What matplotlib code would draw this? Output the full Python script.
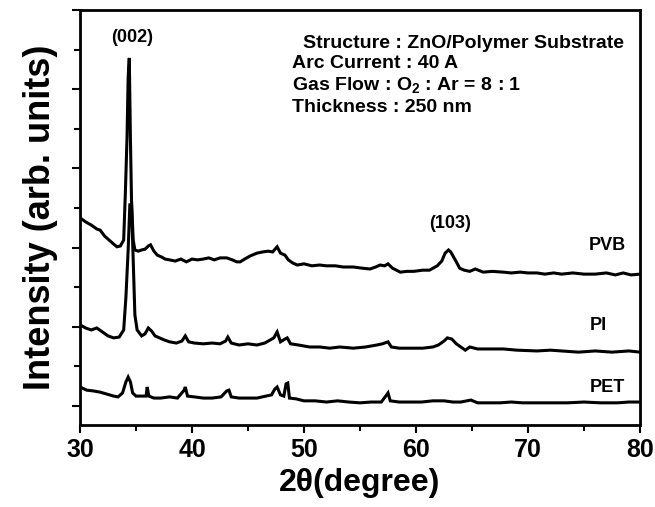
import matplotlib
matplotlib.use("Agg")
import matplotlib.pyplot as plt
from matplotlib import font_manager
from matplotlib.ticker import MultipleLocator

names = {f.name for f in font_manager.fontManager.ttflist}
narrow = "Liberation Sans Narrow" if "Liberation Sans Narrow" in names else "Liberation Sans"
wide = "Liberation Sans" if "Liberation Sans" in names else "DejaVu Sans"

# ---------------- data (2theta in degree, intensity in arb. units, offset stacked) -------------
pvb_x = [30.0, 30.5, 31.0, 31.5, 31.8, 32.2, 32.6, 33.0, 33.3, 33.6, 33.9, 34.05, 34.2, 34.3, 34.4,
         34.5, 34.6, 34.75, 34.9, 35.2, 35.5, 35.8, 36.1, 36.3, 36.6, 36.9, 37.3, 37.6, 38.0, 38.5,
         39.0, 39.5, 40.0, 40.5, 41.0, 41.5, 42.0, 42.5, 43.1, 43.6, 44.0, 44.3, 44.7, 45.2, 45.8,
         46.3, 46.8, 47.2, 47.6, 47.9, 48.3, 48.6, 49.0, 49.4, 50.0, 50.7, 51.4, 52.0, 52.8, 53.5,
         54.4, 55.2, 55.9, 56.4, 56.8, 57.2, 57.5, 57.9, 58.6, 59.2, 59.8, 60.6, 61.2, 61.9, 62.3,
         62.6, 62.9, 63.1, 63.3, 63.6, 63.9, 64.3, 64.8, 65.3, 66.0, 66.8, 67.8, 68.5, 69.3, 70.0,
         70.8, 71.5, 72.3, 73.0, 74.0, 75.0, 76.0, 77.0, 77.8, 78.5, 79.2, 80.0]
pvb_y = [4.75, 4.65, 4.57, 4.47, 4.44, 4.29, 4.19, 4.09, 4.02, 4.04, 4.19, 5.38, 6.79, 8.31, 8.79,
         6.79, 5.20, 4.19, 3.94, 3.91, 3.94, 3.96, 4.04, 4.07, 3.91, 3.81, 3.76, 3.71, 3.69, 3.66,
         3.71, 3.64, 3.71, 3.69, 3.71, 3.74, 3.69, 3.74, 3.74, 3.69, 3.64, 3.64, 3.71, 3.79, 3.86,
         3.89, 3.91, 3.89, 4.02, 3.86, 3.81, 3.69, 3.61, 3.56, 3.59, 3.54, 3.56, 3.54, 3.54, 3.51,
         3.51, 3.48, 3.46, 3.51, 3.56, 3.54, 3.59, 3.48, 3.38, 3.40, 3.40, 3.43, 3.43, 3.54, 3.66,
         3.86, 3.94, 3.89, 3.79, 3.64, 3.48, 3.43, 3.40, 3.46, 3.38, 3.40, 3.38, 3.36, 3.38, 3.36,
         3.36, 3.33, 3.36, 3.33, 3.36, 3.33, 3.33, 3.36, 3.31, 3.36, 3.31, 3.33]

pi_x = [30.0, 30.5, 31.0, 31.5, 32.0, 32.5, 33.0, 33.5, 33.9, 34.1, 34.3, 34.45, 34.6, 34.75, 34.9,
        35.1, 35.5, 35.8, 36.1, 36.4, 36.7, 37.1, 37.5, 38.0, 38.6, 39.1, 39.4, 39.7, 40.2, 41.0,
        41.8, 42.5, 43.0, 43.2, 43.5, 44.2, 45.0, 45.8, 46.5, 47.0, 47.3, 47.6, 47.9, 48.3, 48.5,
        48.8, 49.5, 50.5, 51.4, 52.3, 53.2, 54.4, 55.5, 56.5, 57.0, 57.5, 57.8, 58.5, 59.5, 60.6,
        61.5, 62.0, 62.5, 62.8, 63.2, 63.6, 64.0, 64.4, 64.8, 65.5, 66.5, 67.8, 69.0, 70.8, 72.0,
        73.0, 74.5, 76.0, 77.5, 79.0, 80.0]
pi_y = [2.05, 1.97, 1.92, 1.97, 1.87, 1.77, 1.72, 1.74, 1.92, 2.75, 3.94, 5.08, 5.08, 3.69, 2.30,
        1.92, 1.77, 1.82, 1.97, 1.89, 1.77, 1.72, 1.67, 1.62, 1.59, 1.64, 1.77, 1.62, 1.59, 1.57,
        1.59, 1.57, 1.64, 1.74, 1.59, 1.54, 1.57, 1.54, 1.59, 1.67, 1.72, 1.87, 1.62, 1.69, 1.72,
        1.57, 1.54, 1.49, 1.49, 1.46, 1.49, 1.46, 1.49, 1.54, 1.57, 1.62, 1.49, 1.46, 1.46, 1.46,
        1.49, 1.54, 1.64, 1.72, 1.69, 1.57, 1.49, 1.41, 1.49, 1.44, 1.44, 1.44, 1.41, 1.39, 1.41,
        1.39, 1.36, 1.39, 1.36, 1.39, 1.36]

pet_x = [30.0, 30.6, 31.2, 31.8, 32.4, 33.0, 33.4, 33.8, 34.1, 34.3, 34.5, 34.7, 35.0, 35.5, 35.9,
         36.0, 36.15, 36.6, 37.2, 38.0, 38.7, 39.3, 39.4, 39.6, 40.2, 41.0, 41.8, 42.6, 43.1, 43.3,
         43.5, 44.2, 45.0, 45.8, 46.6, 47.1, 47.4, 47.6, 47.9, 48.2, 48.4, 48.55, 48.7, 49.3, 50.0,
         51.0, 52.0, 53.0, 54.0, 55.0, 56.0, 56.9, 57.3, 57.5, 57.7, 58.5, 59.5, 60.5, 61.5, 62.5,
         63.3, 64.0, 64.9, 65.5, 66.5, 67.5, 68.5, 69.5, 70.5, 72.0, 73.5, 75.0, 76.5, 78.0, 79.0,
         80.0]
pet_y = [0.48, 0.40, 0.38, 0.35, 0.30, 0.25, 0.23, 0.33, 0.61, 0.73, 0.61, 0.33, 0.25, 0.25, 0.25,
         0.48, 0.25, 0.20, 0.20, 0.23, 0.20, 0.40, 0.48, 0.25, 0.23, 0.20, 0.20, 0.23, 0.38, 0.40,
         0.23, 0.20, 0.20, 0.20, 0.25, 0.28, 0.43, 0.48, 0.28, 0.25, 0.56, 0.58, 0.20, 0.18, 0.13,
         0.13, 0.10, 0.13, 0.10, 0.08, 0.10, 0.10, 0.25, 0.33, 0.13, 0.10, 0.10, 0.10, 0.13, 0.13,
         0.10, 0.10, 0.15, 0.08, 0.08, 0.08, 0.10, 0.08, 0.08, 0.08, 0.08, 0.10, 0.08, 0.08, 0.10,
         0.10]

series_labels = ["PVB", "PI", "PET"]
x_ticks = [30, 40, 50, 60, 70, 80]
info_lines = ["Structure : ZnO/Polymer Substrate", "Arc Current : 40 A",
              r"Gas Flow : O$_{\mathregular{2}}$ : Ar = 8 : 1", "Thickness : 250 nm"]

# ---------------- figure ----------------
fig = plt.figure(figsize=(6.55, 5.07), dpi=100)
ax = fig.add_axes([80 / 655, 1 - 425 / 507, 560 / 655, 415 / 507])

for xs, ys in [(pvb_x, pvb_y), (pi_x, pi_y), (pet_x, pet_y)]:
    ax.plot(xs, ys, color="black", lw=2.2, solid_joinstyle="miter")

ax.set_xlim(30, 80)
ax.set_ylim(-0.48, 10.0)
ax.set_xticks(x_ticks)
ax.xaxis.set_minor_locator(MultipleLocator(5))
ax.yaxis.set_major_locator(MultipleLocator(2))
ax.yaxis.set_minor_locator(MultipleLocator(1))
ax.tick_params(axis="y", which="both", labelleft=False)
ax.tick_params(which="major", direction="out", length=6, width=1.5)
ax.tick_params(which="minor", direction="out", length=4, width=1.5)
for s in ax.spines.values():
    s.set_linewidth(2.0)

for lab in ax.get_xticklabels():
    lab.set_fontfamily(narrow)
    lab.set_fontweight("bold")
    lab.set_fontsize(18)

ax.set_xlabel("2θ(degree)", fontsize=23, fontweight="bold", family=wide, labelpad=4)
ax.set_ylabel("Intensity (arb. units)", fontsize=26, fontweight="bold", family=wide, labelpad=10)

tkw = dict(family=narrow, fontweight="bold", ha="center", va="center", fontsize=13)
ax.annotate("(002)", xy=(132 / 655, 1 - 37 / 507), xycoords="figure fraction", **tkw)
ax.annotate("(103)", xy=(450 / 655, 1 - 223 / 507), xycoords="figure fraction", **tkw)
lab_pos = [(607, 245), (598, 325), (607, 387)]
for name, (lx, ly) in zip(series_labels, lab_pos):
    ax.annotate(name, xy=(lx / 655, 1 - ly / 507), xycoords="figure fraction", **tkw)

info_pos = [(303, 43), (292, 64), (292, 86), (292, 108)]
for line, (lx, ly) in zip(info_lines, info_pos):
    ax.annotate(line, xy=(lx / 655, 1 - ly / 507), xycoords="figure fraction",
                family=narrow, fontweight="bold", ha="left", va="center", fontsize=14)

fig.savefig("out.png", dpi=100)
